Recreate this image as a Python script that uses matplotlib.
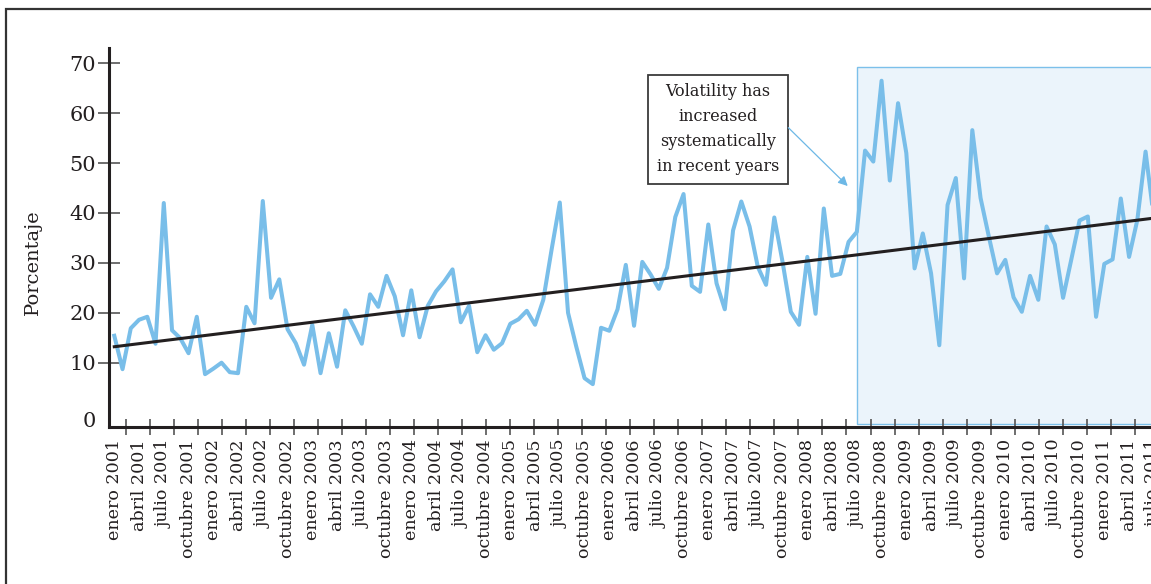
import numpy as np
import matplotlib
matplotlib.use("Agg")
import matplotlib.pyplot as plt
from matplotlib.patches import Rectangle

plt.rcParams["font.family"] = "DejaVu Serif"

meses = ["enero", "abril", "julio", "octubre"]
anios = list(range(2001, 2012))

# porcentaje mensual, enero 2001 - julio 2011
porcentaje = [
    15.4, 8.7, 16.9, 18.6, 19.2, 13.8, 42.0, 16.5, 14.9, 11.9, 19.2, 7.7,
    8.8, 10.0, 8.1, 7.9, 21.2, 17.9, 42.4, 23.0, 26.7, 16.7, 13.9, 9.6,
    17.6, 7.9, 15.9, 9.2, 20.5, 17.3, 13.8, 23.7, 21.2, 27.4, 23.3, 15.5,
    24.5, 15.1, 21.4, 24.3, 26.3, 28.7, 18.1, 21.4, 12.1, 15.5, 12.6, 13.9,
    17.8, 18.7, 20.4, 17.6, 22.6, 32.6, 42.1, 20.0, 13.2, 6.9, 5.7, 17.0,
    16.4, 20.7, 29.6, 17.4, 30.2, 27.7, 24.8, 29.0, 39.2, 43.8, 25.4, 24.2,
    37.7, 25.9, 20.7, 36.5, 42.3, 37.3, 29.2, 25.6, 39.1, 30.2, 20.2, 17.6,
    31.2, 19.8, 40.9, 27.4, 27.8, 34.2, 36.2, 52.5, 50.3, 66.5, 46.5, 62.0,
    52.0, 28.9, 35.9, 27.9, 13.5, 41.6, 47.0, 26.9, 56.6, 43.0, 35.3, 27.9,
    30.6, 23.1, 20.2, 27.4, 22.6, 37.3, 33.7, 23.0, 30.7, 38.5, 39.3, 19.2,
    29.8, 30.7, 42.9, 31.2, 38.6, 52.3, 39.0,
]

# linea de tendencia
tendencia_inicio = 13.2
tendencia_pendiente = 0.2045

# periodo de mayor volatilidad (desde julio 2008)
volatil_desde = 90
volatil_techo = 69.2

nota = "Volatility has\nincreased\nsystematically\nin recent years"

mes_idx = np.arange(len(porcentaje))
etiquetas = [f"{m} {a}" for a in anios for m in meses][: len(mes_idx[::3])]

azul = "#79BEE9"
negro = "#231F20"

fig = plt.figure(figsize=(11.51, 5.84), dpi=100)
ax = fig.add_axes([0.0947, 0.2693, 0.9218, 0.648])

ax.add_patch(Rectangle(
    (volatil_desde, -2.35), 60, volatil_techo + 2.35,
    facecolor="#EBF4FB", edgecolor="#7CC0EA", lw=1.0, zorder=1,
))

ax.plot(mes_idx, porcentaje, color=azul, lw=2.9, zorder=3)

xt = np.array([0, 130])
ax.plot(xt, tendencia_inicio + tendencia_pendiente * xt,
        color=negro, lw=2.2, zorder=4)

ax.text(73.2, 56.8, nota, ha="center", va="center", fontsize=11.5,
        linespacing=1.6, color=negro, zorder=6,
        bbox=dict(boxstyle="square,pad=0.55", fc="white",
                  ec="#3A3A3A", lw=1.3))
ax.annotate("", xy=(88.9, 45.4), xytext=(81.7, 57.1),
            arrowprops=dict(arrowstyle="-|>", color="#6DB8E6", lw=0.9,
                            mutation_scale=14, shrinkA=0, shrinkB=0),
            zorder=6)

ax.set_xlim(-0.64, 127.96)
ax.set_ylim(-2.83, 73.0)

ax.set_yticks([-1.48] + list(range(10, 80, 10)),
              labels=["0"] + [str(v) for v in range(10, 80, 10)])
ax.yaxis.get_major_ticks()[0].tick1line.set_visible(False)
ax.tick_params(axis="y", direction="inout", length=16, width=1.2,
               color="#555555", pad=1.5, labelsize=15, labelcolor=negro)

ax.set_xticks(mes_idx[::3], labels=etiquetas, rotation=90)
ax.set_xticks(np.arange(1.42, 127, 2.911), minor=True)
ax.tick_params(axis="x", which="major", length=0, pad=9,
               labelsize=12.6, labelcolor=negro)
ax.tick_params(axis="x", which="minor", direction="inout", length=12,
               width=1.2, color="#555555")

for s in ["top", "right"]:
    ax.spines[s].set_visible(False)
for s in ["left", "bottom"]:
    ax.spines[s].set_linewidth(2.2)
    ax.spines[s].set_color(negro)

ax.set_ylabel("Porcentaje", fontsize=14, color=negro)
ax.yaxis.set_label_coords(-0.0631, 0.435)

# marco de la figura
fig.add_artist(Rectangle((6 / 1151, -0.5), 1.2, 0.5 + 575 / 584,
                         transform=fig.transFigure, fill=False,
                         ec="#333333", lw=1.6))

fig.savefig("out.png", dpi=100)
